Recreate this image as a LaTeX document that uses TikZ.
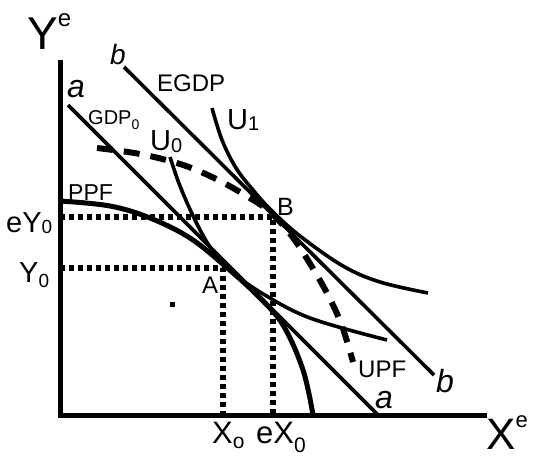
\documentclass[tikz,border=0pt]{standalone}
\usepackage{fontspec}
\setmainfont{Liberation Sans}
\newcommand\fsz[1]{\fontsize{#1}{#1}\selectfont}
\begin{document}
\begin{tikzpicture}[x=1pt,y=-1pt,
  lbl/.style={inner sep=0pt, anchor=base west},
  axisline/.style={line width=5pt},
  budget/.style={line width=3.6pt},
  ppfcurve/.style={line width=5pt},
  ucurve/.style={line width=3.6pt},
  upfcurve/.style={line width=6pt, dash pattern=on 16pt off 11pt},
  guide/.style={line width=5.5pt, dash pattern=on 5pt off 4pt}]
\useasboundingbox (0,0) rectangle (537,457);
% points
\coordinate (O) at (60,415);
\coordinate (ytop) at (60,60);
\coordinate (xend) at (487,415);
\coordinate (A) at (223,268);
\coordinate (B) at (273,217);
\coordinate (eY) at (60,217);
\coordinate (Yz) at (60,268);
\coordinate (eX) at (273,415);
\coordinate (Xz) at (223,415);
\coordinate (a1) at (68,105);
\coordinate (a2) at (378,415);
\coordinate (b1) at (124,67);
\coordinate (b2) at (434,375);
% guides
\draw[guide] (eY) -- (B) -- (eX);
\draw[guide] (Yz) -- (A) -- (Xz);
% budget lines
\draw[budget] (a1) -- (a2);
\draw[budget] (b1) -- (b2);
% PPF
\draw[ppfcurve] plot[smooth, tension=0.6] coordinates {(60,201) (110,206) (150,218) (190,238) (225,266) (258,296) (283,325) (303,370) (313,415)};
% U0
\draw[ucurve] plot[smooth, tension=0.6] coordinates {(170,157) (180,186) (195,220) (210,247) (227,268) (260,292) (310,318) (387,340)};
% U1
\draw[ucurve] plot[smooth, tension=0.6] coordinates {(212,108) (222,140) (236,168) (253,190) (272,211) (300,236) (343,266) (380,282) (428,293)};
% UPF
\draw[upfcurve] plot[smooth, tension=0.6] coordinates {(97,148) (140,154) (180,164) (212,177) (245,195) (270,212) (291,235) (309,262) (328,295) (342,326) (353,362)};
% axes
\draw[axisline] (ytop) -- (O) -- (xend);
% stray mark
\fill (170,302) rectangle (175,307);
% labels
\node[lbl] (lye) at (27,50) {\fsz{46}Y\raisebox{23pt}{\fsz{24}e}};
\node[lbl] (lxe) at (486,449) {\fsz{44}X\raisebox{22pt}{\fsz{22}e}};
\node[lbl] (leY) at (6,232) {\fsz{29}eY\raisebox{-1pt}{\fsz{19}0}};
\node[lbl] (lY) at (19,282) {\fsz{29}Y\raisebox{-5pt}{\fsz{19}0}};
\node[lbl] (lX) at (212,443) {\fsz{31}X\raisebox{-5pt}{\fsz{21}o}};
\node[lbl] (leX) at (256,443) {\fsz{31}eX\raisebox{-9pt}{\fsz{21}0}};
\node[lbl] (lA) at (202,293) {\fsz{24}A};
\node[lbl] (lB) at (277,215) {\fsz{25}B};
\node[lbl] (lU0) at (150,150) {\fsz{29}U\raisebox{-2pt}{\fsz{20}0}};
\node[lbl] (lU1) at (227,130) {\fsz{29}U\raisebox{-1pt}{\fsz{20}1}};
\node[lbl] (lEGDP) at (157,92) {\fsz{24}EGDP};
\node[lbl] (lGDP) at (88,125) {\fsz{20}GDP\raisebox{-5pt}{\fsz{14}0}};
\node[lbl] (lPPF) at (68,200) {\fsz{23}PPF};
\node[lbl] (lUPF) at (358,377) {\fsz{24}UPF};
\node[lbl] (la1) at (67,98) {\fsz{32}\itshape a};
\node[lbl] (lb1) at (110,65) {\fsz{28}\itshape b};
\node[lbl] (la2) at (375,408) {\fsz{32}\itshape a};
\node[lbl] (lb2) at (436,392) {\fsz{32}\itshape b};
\end{tikzpicture}
\end{document}
